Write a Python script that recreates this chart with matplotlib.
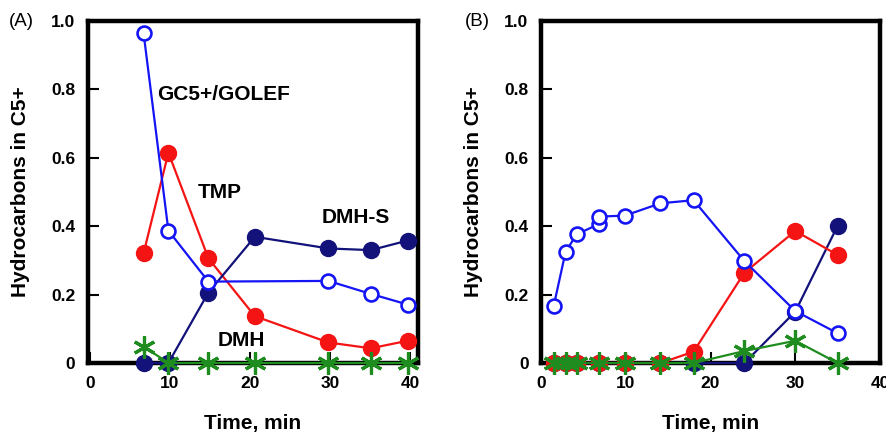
import matplotlib
matplotlib.use("Agg")
import matplotlib.pyplot as plt

plt.rcParams["font.family"] = ["Liberation Sans", "DejaVu Sans"]

# Panel A data
a_time = [6.7, 9.8, 14.8, 20.6, 29.8, 35.1, 39.7]
a_golef_time = [6.7, 9.8, 14.8, 29.8, 35.1, 39.7]
a_golef = [0.964, 0.387, 0.238, 0.240, 0.202, 0.171]
a_tmp = [0.321, 0.615, 0.306, 0.137, 0.060, 0.043, 0.065]
a_dmhs = [0.0, 0.0, 0.206, 0.369, 0.335, 0.330, 0.358]
a_dmh = [0.048, 0.0, 0.0, 0.0, 0.0, 0.0, 0.0]

# Panel B data
b_golef_time = [1.5, 2.9, 4.2, 6.8, 6.8, 9.9, 14.1, 18.0, 24.0, 30.0, 35.0]
b_golef = [0.167, 0.325, 0.376, 0.406, 0.428, 0.431, 0.467, 0.476, 0.298, 0.152, 0.087]
b_time = [1.5, 2.9, 4.2, 6.8, 9.9, 14.1, 18.0, 24.0, 30.0, 35.0]
b_tmp = [0.0, 0.0, 0.0, 0.0, 0.0, 0.0, 0.033, 0.264, 0.386, 0.316]
b_dmhs = [0.0, 0.0, 0.0, 0.0, 0.0, 0.0, 0.0, 0.0, 0.150, 0.401]
b_dmh = [0.0, 0.0, 0.0, 0.0, 0.0, 0.0, 0.0, 0.035, 0.065, 0.0]

y_ticks = [0, 0.2, 0.4, 0.6, 0.8, 1.0]
y_ticklabels = ["0", "0.2", "0.4", "0.6", "0.8", "1.0"]
x_ticks = [0, 10, 20, 30, 40]

BLUE = "#1414f5"
RED = "#f51414"
NAVY = "#12127a"
GREEN = "#1f8c1f"
ASTERISK = (6, 2, 0)

LW = 1.6
FILLED = dict(marker="o", ms=11.5, clip_on=False)
OPEN = dict(marker="o", ms=10, mfc="white", mew=1.9, clip_on=False)
STAR = dict(marker=ASTERISK, ms=16, mew=2.3, clip_on=False)


def style_axes(ax, xlim):
    ax.set_xlim(*xlim)
    ax.set_ylim(0, 1.0)
    ax.set_xticks(x_ticks)
    ax.set_yticks(y_ticks)
    ax.set_yticklabels(y_ticklabels)
    for s in ax.spines.values():
        s.set_linewidth(3.2)
    ax.tick_params(direction="in", length=8, width=1.5, labelsize=12.5, pad=9)
    for lab in ax.get_xticklabels() + ax.get_yticklabels():
        lab.set_fontweight("bold")
    ax.set_xlabel("Time, min", fontsize=15, fontweight="bold", labelpad=17)
    ax.set_ylabel("Hydrocarbons in C5+", fontsize=15, fontweight="bold", labelpad=15)


fig = plt.figure(figsize=(8.87, 4.32), dpi=100)
ax_a = fig.add_axes([88 / 887, 69 / 432, 330 / 887, 342 / 432])
ax_b = fig.add_axes([541 / 887, 69 / 432, 339 / 887, 342 / 432])

# Panel A
ax_a.plot(a_time, a_dmh, color=GREEN, lw=LW, zorder=5, **STAR)
ax_a.plot(a_time, a_tmp, color=RED, lw=LW, zorder=4, **FILLED)
ax_a.plot(a_time, a_dmhs, color=NAVY, lw=LW, zorder=4, **FILLED)
ax_a.plot(a_golef_time, a_golef, color=BLUE, lw=LW, zorder=5, **OPEN)
style_axes(ax_a, (-0.25, 41))
ax_a.text(8.4, 0.784, "GC5+/GOLEF", fontsize=15, fontweight="bold", va="center")
ax_a.text(13.5, 0.50, "TMP", fontsize=15, fontweight="bold", va="center")
ax_a.text(29.0, 0.424, "DMH-S", fontsize=15, fontweight="bold", va="center")
ax_a.text(16.0, 0.067, "DMH", fontsize=15, fontweight="bold", va="center")

# Panel B
ax_b.plot(b_time, b_dmhs, color=NAVY, lw=LW, zorder=3, **FILLED)
ax_b.plot(b_time, b_tmp, color=RED, lw=LW, zorder=4, **FILLED)
ax_b.plot(b_time, b_dmh, color=GREEN, lw=LW, zorder=5, **STAR)
ax_b.plot(b_golef_time, b_golef, color=BLUE, lw=LW, zorder=6, **OPEN)
style_axes(ax_b, (0, 40))

fig.text(9 / 887, 1 - 22 / 432, "(A)", fontsize=13.5, va="center", ha="left")
fig.text(465 / 887, 1 - 22 / 432, "(B)", fontsize=13.5, va="center", ha="left")

fig.savefig("out.png", dpi=100)
